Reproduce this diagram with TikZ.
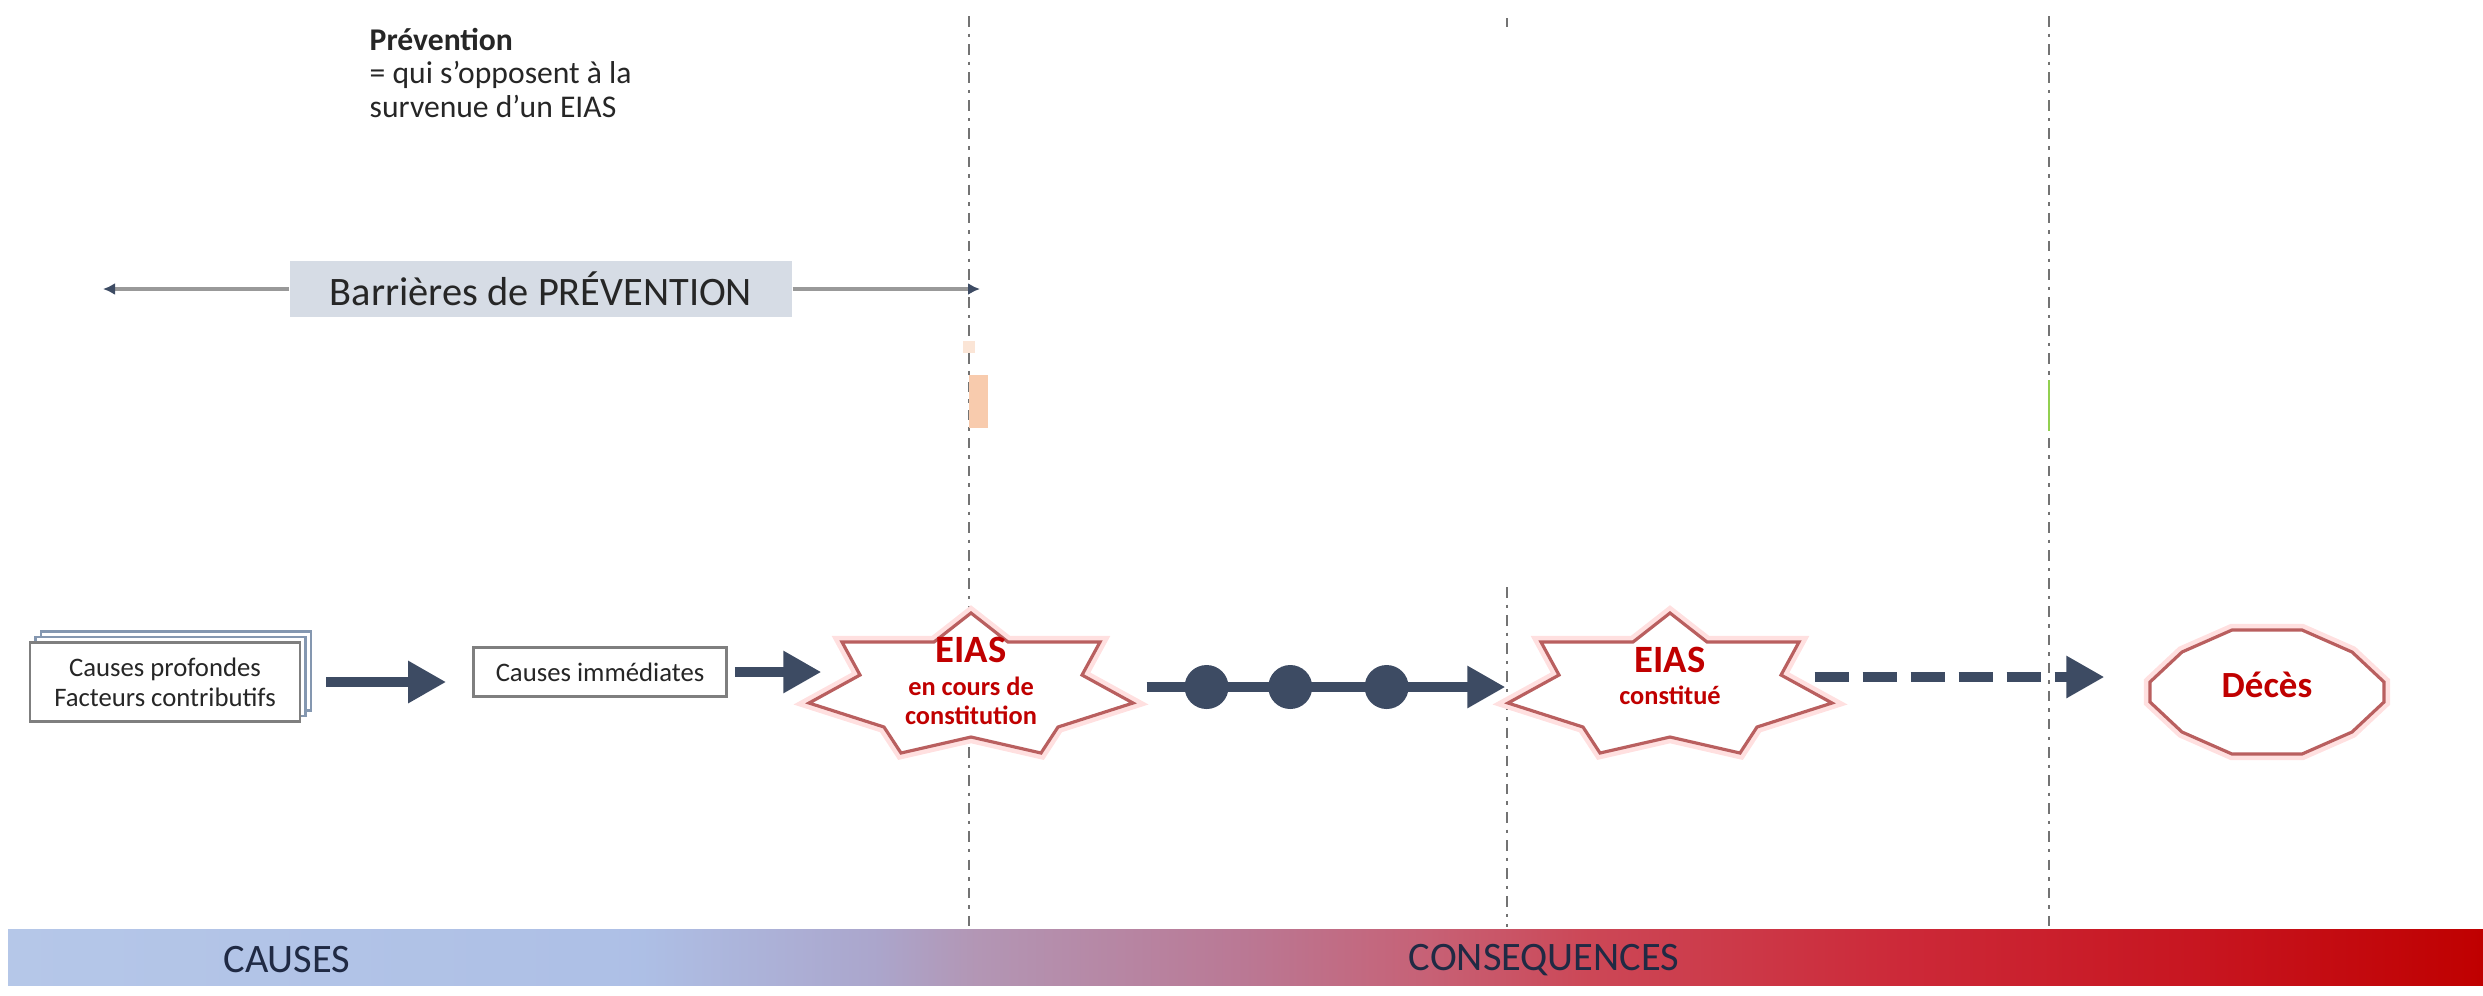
\documentclass[tikz,border=0pt]{standalone}
\usepackage{fontspec}
\setmainfont{Carlito}
\usetikzlibrary{arrows.meta,shadows,positioning}
\definecolor{fleche}{RGB}{61,75,99}
\definecolor{rouge}{RGB}{192,0,0}
\definecolor{contour}{RGB}{185,95,95}
\definecolor{gris}{RGB}{127,127,127}
\definecolor{bleugris}{RGB}{214,220,229}
\definecolor{bleugrisfonce}{RGB}{132,151,176}
\definecolor{orangeclair}{RGB}{248,203,173}
\definecolor{vertclair}{RGB}{146,208,80}
\definecolor{texte}{RGB}{38,38,38}
\definecolor{marine}{RGB}{32,42,68}
\pgfdeclarehorizontalshading{causesconseq}{100bp}{rgb(0bp)=(0.71,0.78,0.91); rgb(25bp)=(0.71,0.78,0.91); rgb(37.75bp)=(0.68,0.75,0.90); rgb(42.5bp)=(0.67,0.65,0.80); rgb(44.5bp)=(0.70,0.59,0.71); rgb(50bp)=(0.73,0.47,0.58); rgb(53.7bp)=(0.78,0.38,0.46); rgb(56.9bp)=(0.80,0.28,0.34); rgb(63.3bp)=(0.80,0.16,0.22); rgb(69.6bp)=(0.78,0.08,0.12); rgb(75bp)=(0.75,0,0); rgb(100bp)=(0.75,0,0)}
\newcommand{\etoile}[1]{%
  \draw[bordrouge] ([shift={(0,0.74)}]#1.center)
    \foreach \x/\y in {0.37/0.45,1.29/0.45,1.11/0.12,1.62/-0.16,0.87/-0.40,0.70/-0.66,0/-0.50,-0.70/-0.66,-0.87/-0.40,-1.62/-0.16,-1.11/0.12,-1.29/0.45,-0.37/0.45}
    {-- ([shift={(\x,\y)}]#1.center)} -- cycle;}
\newcommand{\polygone}[1]{%
  \draw[bordrouge] ([shift={(-0.35,0.62)}]#1.center)
    \foreach \x/\y in {0.35/0.62,0.85/0.40,1.17/0.10,1.17/-0.10,0.85/-0.40,0.35/-0.62,-0.35/-0.62,-0.85/-0.40,-1.17/-0.10,-1.17/0.10,-0.85/0.40}
    {-- ([shift={(\x,\y)}]#1.center)} -- cycle;}
\begin{document}
\begin{tikzpicture}[
    fleche/.style={draw=fleche, line width=2.6pt, -{Triangle[length=0.38cm, width=0.40cm]}},
    boite/.style={draw=gris, line width=0.8pt, fill=white, inner sep=0pt, align=center, text=texte, font=\fontsize{7.6}{8.5}\selectfont},
    forme/.style={draw=none, inner sep=0pt, minimum width=3.24cm, minimum height=1.40cm},
    bordrouge/.style={draw=contour, line width=0.9pt, fill=white, preaction={draw=red!12, line width=3.5pt}},
    rougetxt/.style={text=rouge, font=\bfseries\fontsize{7.5}{8}\selectfont, align=center, inner sep=0pt},
    pointille/.style={draw=black!55, line width=0.7pt, dash pattern=on 3pt off 2pt on 1pt off 2pt},
    barre/.style={draw=gris!80, line width=1pt, -{Latex[length=0.12cm, width=0.12cm, color=fleche]}},
    bille/.style={circle, fill=fleche, minimum size=0.44cm, inner sep=0pt},
    bandeau/.style={text=marine, font=\fontsize{11.5}{12}\selectfont},
  ]
  \useasboundingbox (0,0) rectangle (24.83,-9.95);

  \shade[shading=causesconseq] (0.08,-9.29) rectangle (24.83,-9.85);
  \node (causes) [bandeau] at (2.87,-9.60) {CAUSES};
  \node (conseq) [bandeau] at (15.44,-9.60) {CONSEQUENCES};

  \coordinate (l1h) at (9.69,-0.16);
  \coordinate (l1b) at (9.69,-9.27);
  \coordinate (l2h) at (15.07,-5.87);
  \coordinate (l2b) at (15.07,-9.27);
  \coordinate (l3h) at (20.49,-0.16);
  \coordinate (l3b) at (20.49,-9.27);
  \draw[pointille] (l1h) -- (l1b);
  \draw[pointille] (l2h) -- (l2b);
  \draw[pointille] (l3h) -- (l3b);
  \draw[black!55, line width=0.7pt] (15.07,-0.18) -- (15.07,-0.27);
  \fill[orangeclair] (9.69,-3.75) rectangle (9.88,-4.28);
  \fill[orangeclair!50] (9.63,-3.41) rectangle (9.75,-3.53);
  \draw[vertclair, line width=0.8pt] (20.49,-3.80) -- (20.49,-4.31);

  \node (prev) [anchor=north west, inner sep=0pt, align=left, text=texte, font=\fontsize{9}{9.4}\selectfont] at (3.69,-0.28) {\textbf{Prévention}\\= qui s'opposent à la\\survenue d'un EIAS};

  \node (barr) [fill=bleugris, minimum width=5.02cm, minimum height=0.56cm, inner sep=0pt, text=texte, font=\fontsize{11.5}{12}\selectfont] at (5.41,-2.89) {Barrières de PRÉVENTION};
  \coordinate (gauche) at (1.03,-2.89);
  \coordinate (droite) at (9.80,-2.89);
  \draw[barre] (barr.west) -- (gauche);
  \draw[barre] (barr.east) -- (droite);

  \node (prof) [boite, minimum width=2.70cm, minimum height=0.79cm, double copy shadow={shadow xshift=0.055cm, shadow yshift=0.055cm, draw=bleugrisfonce, fill=white}] at (1.65,-6.82) {Causes profondes\\Facteurs contributifs};
  \node (imm) [boite, minimum width=2.53cm, minimum height=0.49cm] at (6.00,-6.72) {Causes immédiates};
  \node (eias1) [forme] at (9.71,-6.87) {};
  \node (eias2) [forme] at (16.70,-6.87) {};
  \node (deces) [forme, minimum width=2.34cm, minimum height=1.24cm] at (22.67,-6.92) {};
  \etoile{eias1}
  \etoile{eias2}
  \polygone{deces}

  \draw[fleche, shorten <=0.25cm, shorten >=0.26cm] (prof.east) -- (prof.east -| imm.west);
  \draw[fleche, shorten <=0.07cm, shorten >=-0.13cm] (imm.east) -- (imm.east -| eias1.west);
  \draw[fleche, shorten <=0.13cm, shorten >=0.02cm] (eias1.east) -- node (bille1) [bille, pos=0.195] {} node (bille2) [bille, pos=0.419] {} node (bille3) [bille, pos=0.677] {} (eias2.west);
  \draw[fleche, dash pattern=on 0.34cm off 0.14cm, shorten <=-0.18cm, shorten >=0.45cm] ([yshift=0.1cm]eias2.east) -- ([yshift=0.1cm]eias2.east -| deces.west);

  \node (eias1txt) [rougetxt] at (9.71,-6.805) {{\fontsize{11}{12}\selectfont EIAS}\\[1.6pt]en cours de\\constitution};
  \node (eias2txt) [rougetxt] at (16.70,-6.755) {{\fontsize{11}{12}\selectfont EIAS}\\[1.1pt]constitué};
  \node (decestxt) [rougetxt, font=\bfseries\fontsize{10.5}{12}\selectfont] at (22.67,-6.85) {Décès};
\end{tikzpicture}
\end{document}
